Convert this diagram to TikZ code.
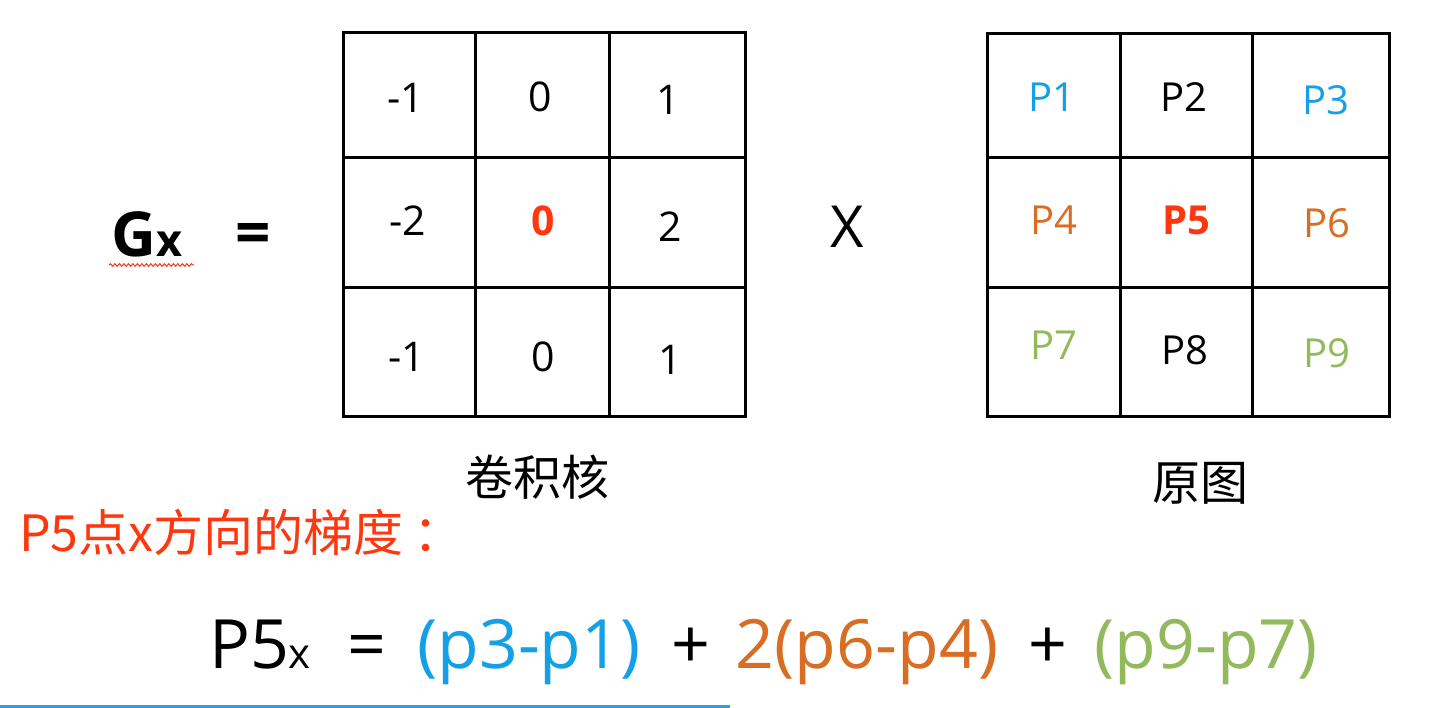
\documentclass[tikz,border=0pt]{standalone}
\usepackage{fontspec}
\setmainfont{Open Sans}
\newfontfamily\cjk{Noto Sans CJK SC}
\usetikzlibrary{decorations.pathmorphing}
\definecolor{pblue}{RGB}{20,160,230}
\definecolor{porange}{RGB}{215,110,35}
\definecolor{pgreen}{RGB}{146,186,92}
\definecolor{pred}{RGB}{255,55,15}
\definecolor{barblue}{RGB}{35,165,225}
\tikzset{
  gridline/.style={line width=3pt, black},
  cell/.style={font=\fontsize{41}{44}\selectfont, inner sep=0pt},
  pcell/.style={font=\fontsize{40}{44}\selectfont, inner sep=0pt},
  captext/.style={font=\cjk\fontsize{48}{52}\selectfont, inner sep=0pt},
  eqtext/.style={font=\fontsize{68}{72}\selectfont, inner sep=0pt, anchor=base},
}
\begin{document}
\begin{tikzpicture}[x=1pt,y=-1pt]
\fill[white] (0,0) rectangle (1455,708);
\useasboundingbox (0,0) rectangle (1455,708);
% kernel grid
\draw[gridline] (343,33) rectangle (745,416);
\draw[gridline] (475,33) -- (475,416) (609,33) -- (609,416)
  (343,158) -- (745,158) (343,288) -- (745,288);
% image grid
\draw[gridline] (987,34) rectangle (1389,416);
\draw[gridline] (1120,34) -- (1120,416) (1252,34) -- (1252,416)
  (987,158) -- (1389,158) (987,288) -- (1389,288);
% kernel values
\node[cell] (k1) at (406,98) {-1};
\node[cell] (k2) at (540,97) {0};
\node[cell] (k3) at (668,100) {1};
\node[cell] (k4) at (408,221) {-2};
\node[cell, text=pred, font=\bfseries\fontsize{41}{44}\selectfont] (k5) at (543,221) {0};
\node[cell] (k6) at (670,227) {2};
\node[cell] (k7) at (407,357) {-1};
\node[cell] (k8) at (543,357) {0};
\node[cell] (k9) at (670,360) {1};
% image values
\node[pcell, text=pblue] (p1) at (1052,97) {P1};
\node[pcell] (p2) at (1184,97) {P2};
\node[pcell, text=pblue] (p3) at (1326,100) {P3};
\node[pcell, text=porange] (p4) at (1054,220) {P4};
\node[pcell, text=pred, font=\bfseries\fontsize{40}{44}\selectfont] (p5) at (1186,220) {P5};
\node[pcell, text=porange] (p6) at (1327,223) {P6};
\node[pcell, text=pgreen] (p7) at (1054,345) {P7};
\node[pcell] (p8) at (1185,350) {P8};
\node[pcell, text=pgreen] (p9) at (1327,353) {P9};
% Gx =
\node[font=\bfseries\fontsize{62}{64}\selectfont, inner sep=0pt, anchor=base west] (G) at (111,257) {G};
\node[font=\bfseries\fontsize{45}{48}\selectfont, inner sep=0pt, anchor=base west] (Gx) at (G.base east) {x};
\draw[pred, line width=1pt, decorate, decoration={snake, amplitude=1.3pt, segment length=4.5pt}] (109,265) -- (194,265);
\node[font=\bfseries\fontsize{62}{64}\selectfont, inner sep=0pt] (eqs) at (253,239) {=};
\node[font=\fontsize{58}{60}\selectfont, inner sep=0pt] (times) at (847,227) {X};
% captions
\node[captext] (kcap) at (537,477) {卷积核};
\node[captext] (icap) at (1200,483) {原图};
\node[captext, font=\cjk\fontsize{50}{54}\selectfont, text=pred, anchor=base west] (title) at (19,551) {P5点x方向的梯度\hspace{0.2em}：};
% formula
\node[eqtext] (fP) at (249,668) {P5};
\node[eqtext, font=\fontsize{42}{44}\selectfont] (fx) at (299,668) {x};
\node[eqtext] (feq) at (367,668) {=};
\node[eqtext, text=pblue] (f1) at (529,668) {(p3-p1)};
\node[eqtext] (fplus1) at (691,668) {+};
\node[eqtext, text=porange] (f2) at (867,668) {2(p6-p4)};
\node[eqtext] (fplus2) at (1048,668) {+};
\node[eqtext, text=pgreen] (f3) at (1206,668) {(p9-p7)};
% bottom bar
\fill[barblue] (0,705) rectangle (730,708);
\end{tikzpicture}
\end{document}
